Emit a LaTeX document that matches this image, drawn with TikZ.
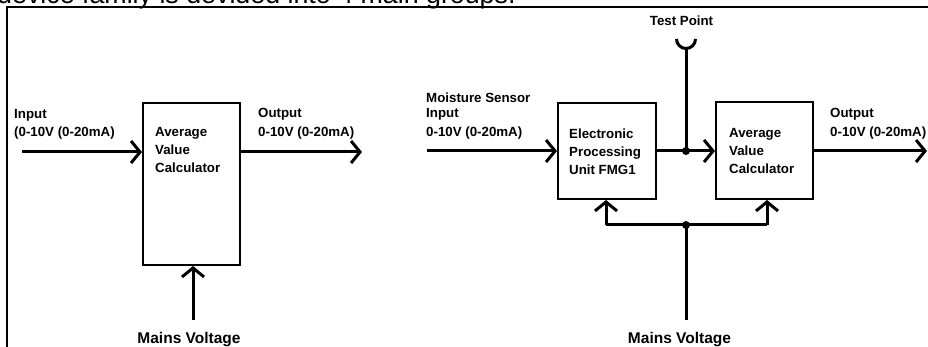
\documentclass[tikz,border=0pt]{standalone}
\usepackage{fontspec}
\setmainfont{Liberation Sans}
\usetikzlibrary{arrows.meta}
\begin{document}
\begin{tikzpicture}[x=1pt,y=-1pt,
  blk/.style={draw,line width=2pt,inner sep=0pt},
  lbl/.style={font=\bfseries\fontsize{13.3}{16}\selectfont,inner sep=0pt,anchor=base west},
  big/.style={font=\bfseries\fontsize{15.5}{18}\selectfont,inner sep=0pt,anchor=base},
  wire/.style={line width=3pt},
  conn/.style={line width=3pt,-{Straight Barb[length=9pt,width=22pt]}},
  dot/.style={circle,fill,inner sep=0pt,minimum size=8pt}]
\useasboundingbox (0,0) rectangle (928,347);
\clip (0,0) rectangle (928,347);
% header text (cut off)
\node[font=\fontsize{26.8}{30}\selectfont,inner sep=0pt,anchor=base west] (hdr) at (-3,4) {device family is devided into 4 main groups.};
% frame
\draw[line width=2pt] (7,360) -- (7,7) -- (940,7);
% ---------- left group ----------
\node[blk,minimum width=97pt,minimum height=162pt] (A) at (191.5,184) {};
\node[lbl] (a1) at (155,136.5) {Average};
\node[lbl] (a2) at (155,154.5) {Value};
\node[lbl] (a3) at (155,172.5) {Calculator};
\node[lbl] (i1) at (14,118.5) {Input};
\node[lbl] (i2) at (14,137) {(0-10V (0-20mA)};
\node[lbl] (o1) at (258,117.5) {Output};
\node[lbl] (o2) at (258,136.5) {0-10V (0-20mA)};
\coordinate (inA) at (22,152);
\coordinate (outA) at (362,152);
\coordinate (mainsA) at (193,320);
\draw[conn] (inA) -- (inA -| A.west);
\draw[conn] (A.east |- outA) -- (outA);
\draw[conn] (mainsA) -- (mainsA |- A.south);
\node[big] (mvA) at (189,343) {Mains Voltage};
% ---------- right group ----------
\node[blk,minimum width=98pt,minimum height=96pt] (E) at (607,151) {};
\node[blk,minimum width=97pt,minimum height=97pt] (C) at (764.5,150.5) {};
\node[lbl] (e1) at (569,138.5) {Electronic};
\node[lbl] (e2) at (569,156.5) {Processing};
\node[lbl] (e3) at (569,174.5) {Unit FMG1};
\node[lbl] (c1) at (729,137.5) {Average};
\node[lbl] (c2) at (729,155.5) {Value};
\node[lbl] (c3) at (729,173.5) {Calculator};
\node[lbl] (m1) at (426,102.5) {Moisture Sensor};
\node[lbl] (m2) at (426,118) {Input};
\node[lbl] (m3) at (426,136.5) {0-10V (0-20mA)};
\node[lbl] (o3) at (830,117.5) {Output};
\node[lbl] (o4) at (830,136.5) {0-10V (0-20mA)};
\node[lbl,anchor=base] (tpl) at (681.5,25.5) {Test Point};
\node[big] (mvB) at (679.5,343) {Mains Voltage};
\coordinate (inB) at (427,151);
\coordinate (j1) at (686,151);
\coordinate (tp) at (686,48.5);
\coordinate (outB) at (927,151);
\coordinate (j2) at (686,225);
\coordinate (bl) at (606,225);
\coordinate (br) at (767,225);
\coordinate (mainsB) at (686,320);
\draw[conn] (inB) -- (inB -| E.west);
\draw[wire] (E.east |- j1) -- (j1);
\draw[conn] (j1) -- (j1 -| C.west);
\draw[conn] (C.east |- outB) -- (outB);
\draw[wire] (tp) -- (j1);
\draw[line width=3pt] (676.5,39) arc[start angle=180,end angle=0,radius=9.5];
\draw[wire] (bl) -- (br);
\draw[conn] (bl) -- (bl |- E.south);
\draw[conn] (br) -- (br |- C.south);
\draw[wire] (mainsB) -- (j2);
\node[dot] (d1) at (j1) {};
\node[dot] (d2) at (j2) {};
\end{tikzpicture}
\end{document}
